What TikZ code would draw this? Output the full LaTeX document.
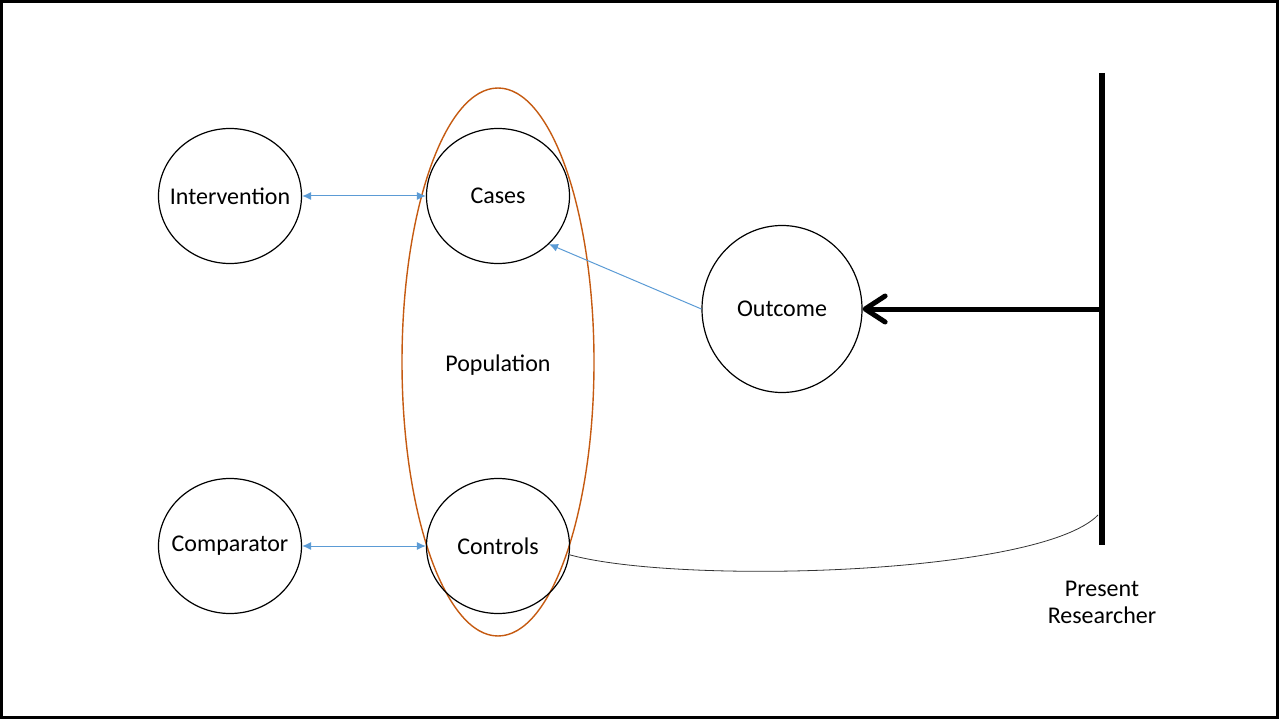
\documentclass[tikz,border=0pt]{standalone}
\usepackage{fontspec}
\setmainfont{Carlito}
\usetikzlibrary{shapes.geometric,arrows.meta}
\definecolor{popedge}{HTML}{C55A11}
\definecolor{linkblue}{HTML}{5B9BD5}
\tikzset{
  entity/.style={ellipse,draw=black,line width=1.2pt,minimum width=143pt,minimum height=135pt,inner xsep=-20pt,inner ysep=0pt,font=\fontsize{24}{29}\selectfont},
  link/.style={draw=linkblue,line width=1pt,{Latex[length=9pt,width=8pt]}-{Latex[length=9pt,width=8pt]}},
  onelink/.style={draw=linkblue,line width=1pt,-{Latex[length=9pt,width=8pt]}},
  label/.style={font=\fontsize{24}{29}\selectfont,align=center}
}
\begin{document}
\begin{tikzpicture}[x=1pt,y=-1pt]
  % frame
  \useasboundingbox (0,0) rectangle (1279,719);
  \draw[line width=3pt] (1.5,1.5) rectangle (1277.5,717.5);

  % population group
  \node[ellipse,draw=popedge,line width=1.4pt,minimum width=192pt,minimum height=548pt,inner sep=0pt] (pop) at (498,362) {};
  \node[label] (poplbl) at (498,365) {Population};

  % entities
  \node[entity] (int) at (230,196) {Intervention};
  \node[entity] (cas) at (498,196) {Cases};
  \node[entity] (cmp) at (230,546) {Comparator};
  \node[entity] (ctl) at (498,546) {Controls};
  \node[entity,minimum width=160pt,minimum height=167pt] (out) at (782,309) {Outcome};

  % timeline bar
  \coordinate (bt) at (1102,73);
  \coordinate (bb) at (1102,545);
  \coordinate (bm) at (1102,309);
  \coordinate (be) at (1098,515);
  \draw[line width=6pt] (bt) -- (bb);
  \node[label] (res) at (1102,602) {Present\\[-2pt]Researcher};

  % connectors
  \draw[link] (int.east) -- (cas.west);
  \draw[link] (cmp.east) -- (ctl.west);
  \draw[onelink] (out.west) -- (cas.south east);
  \draw[line width=5pt,-{Straight Barb[length=20pt,width=26pt,round]}] (bm) -- (out.east);
  \draw[line width=0.8pt,black!80] (ctl.-7) .. controls (680,585) and (1040,575) .. (be);
\end{tikzpicture}
\end{document}
